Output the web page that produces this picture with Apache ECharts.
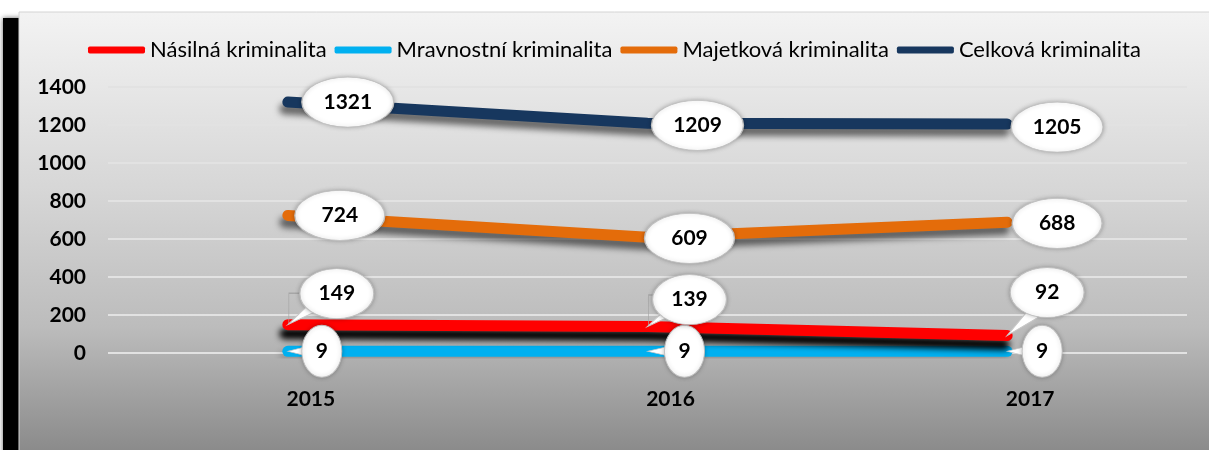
<!DOCTYPE html>
<html>
<head>
<meta charset="utf-8">
<script src="https://cdn.jsdelivr.net/npm/echarts@6/dist/echarts.min.js"></script>
<style>
  html, body { margin: 0; padding: 0; background: #fff; }
  #chart { width: 1209px; height: 450px; }
</style>
</head>
<body>
<div id="chart"></div>
<script>
const years = ['2015', '2016', '2017']
const seriesNames = ['Násilná kriminalita', 'Mravnostní kriminalita', 'Majetková kriminalita', 'Celková kriminalita']
const nasilna = [149, 139, 92]
const mravnostni = [9, 9, 9]
const majetkova = [724, 609, 688]
const celkova = [1321, 1209, 1205]

// callout placement (px offset of the bubble from its point), bubble size and tail
const callouts = {
  nasilna: {
    off: [[49, -31], [42, -27], [40, -43]], size: [74, 50],
    tail: { path: 'path://M0,100 L70,0 L100,30 Z', size: [[34, 23], [30, 20], [31, 26]] },
    leader: [true, true, false]
  },
  mravnostni: {
    off: [[34, 0], [37, 0], [35, 0]], size: [40, 52],
    tail: { path: 'path://M0,50 L100,0 L100,100 Z', size: [[20, 10], [22, 10], [20, 10]] }
  },
  majetkova: { off: [[52, 0], [42, 1], [50, 1]], size: [90, 50] },
  celkova: { off: [[60, 0], [50, 2], [50, 3]], size: [92, 50] }
}

const ellipse = 'path://M0,50 A50,50 0 1,1 100,50 A50,50 0 1,1 0,50 Z'
const bubbleStyle = {
  color: '#fff',
  borderColor: '#bfbfbf',
  borderWidth: 1,
  shadowColor: 'rgba(0,0,0,0.25)',
  shadowBlur: 4
}

const markFor = (values, c) => {
  const items = []
  values.forEach((v, i) => {
    if (c.leader && c.leader[i]) {
      items.push({
        coord: [i, v],
        symbol: 'path://M0,100 L0,0 L100,0',
        symbolSize: [14, 31],
        symbolOffset: [8, -16],
        itemStyle: { color: 'none', borderColor: '#a6a6a6', borderWidth: 1 },
        label: { show: false }
      })
    }
    if (c.tail) {
      const [w, h] = c.tail.size[i]
      items.push({
        coord: [i, v],
        symbol: c.tail.path,
        symbolSize: [w, h],
        symbolOffset: c.tail.path.includes('L100,100') ? [w / 2, 0] : [w / 2, -h / 2],
        itemStyle: { color: '#fff', borderColor: '#c8c8c8', borderWidth: 1 },
        label: { show: false }
      })
    }
  })
  values.forEach((v, i) => {
    items.push({
      coord: [i, v],
      value: v,
      symbol: ellipse,
      symbolSize: c.size,
      symbolOffset: c.off[i],
      itemStyle: bubbleStyle
    })
  })
  return {
    label: {
      show: true,
      color: '#000',
      fontFamily: 'Lato',
      fontWeight: 'bold',
      fontSize: 21
    },
    data: items
  }
}

const line = (name, color, values, c, shadow, dy) => ({
  name,
  type: 'line',
  data: values,
  showSymbol: false,
  symbol: 'none',
  lineStyle: {
    width: 11,
    color,
    cap: 'round',
    join: 'round',
    shadowColor: shadow,
    shadowBlur: 6,
    shadowOffsetX: -3,
    shadowOffsetY: dy
  },
  itemStyle: { color },
  markPoint: markFor(values, c)
})

const chart = echarts.init(document.getElementById('chart'))
chart.setOption({
  backgroundColor: '#fff',
  animation: false,
  graphic: [
    {
      type: 'rect',
      z: -10,
      shape: { x: 3, y: 18, width: 30, height: 440 },
      style: { fill: '#000', shadowColor: 'rgba(0,0,0,0.6)', shadowBlur: 5 }
    },
    {
      type: 'rect',
      z: -9,
      shape: { x: 19, y: 12, width: 1200, height: 450 },
      style: {
        fill: new echarts.graphic.LinearGradient(0, 0, 0, 1, [
          { offset: 0, color: '#f3f3f3' },
          { offset: 0.4, color: '#d6d6d6' },
          { offset: 0.7, color: '#bcbcbc' },
          { offset: 1, color: '#868686' }
        ]),
        stroke: '#d4d4d4',
        lineWidth: 1
      }
    }
  ],
  legend: {
    top: 34,
    left: 83,
    icon: 'roundRect',
    itemWidth: 57,
    itemHeight: 7,
    itemGap: 8,
    data: seriesNames,
    textStyle: {
      fontFamily: 'Lato',
      fontSize: 22,
      color: '#000'
    }
  },
  grid: {
    left: 108,
    right: 22,
    top: 87,
    bottom: 97
  },
  xAxis: {
    type: 'category',
    data: years,
    boundaryGap: true,
    axisLine: { show: false },
    axisTick: { show: false },
    axisLabel: {
      margin: 36,
      padding: [0, 0, 0, 46],
      color: '#000',
      fontFamily: 'Lato',
      fontWeight: 'bold',
      fontSize: 21
    }
  },
  yAxis: {
    type: 'value',
    min: 0,
    max: 1400,
    interval: 200,
    axisLine: { show: false },
    axisTick: { show: false },
    axisLabel: {
      margin: 22,
      formatter: v => String(v),
      color: '#000',
      fontFamily: 'Lato',
      fontWeight: 'bold',
      fontSize: 21
    },
    splitLine: { lineStyle: { color: '#e2e2e2', width: 2 } }
  },
  series: [
    line(seriesNames[1], '#00b0f0', mravnostni, callouts.mravnostni, 'rgba(0,0,0,0.15)', 4),
    line(seriesNames[0], '#ff0000', nasilna, callouts.nasilna, 'rgba(0,0,0,1)', 9),
    line(seriesNames[2], '#e46c0a', majetkova, callouts.majetkova, 'rgba(0,0,0,0.55)', 7),
    line(seriesNames[3], '#17375e', celkova, callouts.celkova, 'rgba(0,0,0,0.55)', 7)
  ]
})
</script>
</body>
</html>
